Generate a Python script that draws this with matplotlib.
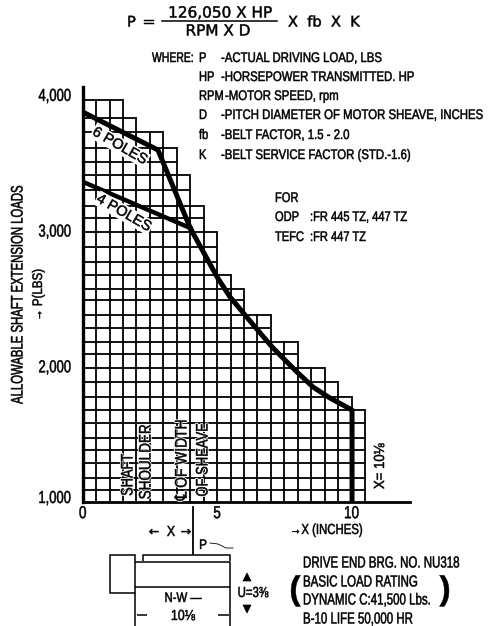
import matplotlib
matplotlib.use("Agg")
import matplotlib.pyplot as plt
from matplotlib.patches import Rectangle, Polygon
from matplotlib.patheffects import AbstractPathEffect
from matplotlib.text import Text
from matplotlib.transforms import Affine2D, Bbox, ScaledTranslation

SANS = ['Liberation Sans', 'DejaVu Sans']
plt.rcParams['font.family'] = SANS

W, H = 488, 626

# ---- data ----
grid_levels = [1088, 1177, 1287, 1383, 1472, 1582, 1678, 1774, 1884, 1987, 2091, 2179, 2282, 2378,
               2489, 2570, 2673, 2769, 2879, 2990, 3093, 3181, 3299, 3410, 3505, 3609, 3727, 3830, 3962]
column_tops = [3962, 3962, 3962, 3830, 3727, 3727, 3609, 3410, 3181, 2990, 2673,
               2570, 2378, 2378, 2179, 2179, 1987, 1987, 1884, 1774, 1678]
column_width = 0.5
poles6_x = [0, 2.8, 4.0]
poles6_y = [3874, 3594, 3019]
poles4_x = [0, 4.0]
poles4_y = [3360, 3019]
common_x = [4.0, 5.0, 5.48, 6.41, 7.08, 7.97, 8.57, 9.2, 10.02, 10.02]
common_y = [3019, 2658, 2511, 2290, 2135, 1958, 1847, 1766, 1678, 1000]
x_ticks = [0, 5, 10]
y_ticks = [1000, 2000, 3000, 4000]
y_tick_labels = ['1,000', '2,000', '3,000', '4,000']
where_syms = ['P', 'HP', 'RPM', 'D', 'fb', 'K']
where_desc = ['-ACTUAL DRIVING LOAD, LBS', '-HORSEPOWER TRANSMITTED. HP', '-MOTOR SPEED, rpm',
              '-PITCH DIAMETER OF MOTOR SHEAVE, INCHES', '-BELT FACTOR, 1.5 - 2.0',
              '-BELT SERVICE FACTOR (STD.-1.6)']


class Squeeze(AbstractPathEffect):
    """Draw a text's glyphs narrower along its baseline and slightly heavier, like the scan."""

    def __init__(self, sx, anchor='center', halo=0, weight=0.35):
        super().__init__()
        self.sx, self.anchor, self.halo, self.weight = sx, anchor, halo, weight

    def draw_path(self, renderer, gc, tpath, affine, rgbFace=None):
        ext = tpath.get_extents()
        a = {'left': 0.0, 'right': ext.x1, 'center': 0.5 * (ext.x0 + ext.x1)}[self.anchor]
        aff = Affine2D().translate(-a, 0).scale(self.sx, 1).translate(a, 0) + affine
        if self.halo:
            g = renderer.new_gc()
            g.copy_properties(gc)
            g.set_linewidth(self.halo)
            g.set_foreground('white')
            renderer.draw_path(g, tpath, aff, (1, 1, 1, 1))
            g.restore()
        g = renderer.new_gc()
        g.copy_properties(gc)
        g.set_linewidth(self.weight)
        g.set_foreground('black')
        renderer.draw_path(g, tpath, aff, rgbFace)
        g.restore()


class NarrowText(Text):
    """Text that reports the extent its squeezed glyphs really cover."""

    squeeze = 1.0

    def get_window_extent(self, renderer=None, dpi=None):
        bb = super().get_window_extent(renderer, dpi)
        s = self.squeeze
        if self.get_rotation() == 90:
            c = 0.5 * (bb.y0 + bb.y1)
            return Bbox([[bb.x0, c + (bb.y0 - c) * s], [bb.x1, c + (bb.y1 - c) * s]])
        a = {'left': bb.x0, 'right': bb.x1, 'center': 0.5 * (bb.x0 + bb.x1)}[self.get_ha()]
        return Bbox([[a + (bb.x0 - a) * s, bb.y0], [a + (bb.x1 - a) * s, bb.y1]])


fig = plt.figure(figsize=(W / 100, H / 100), dpi=100)


def txt(x, y, s, size=10, ha='left', sq=1.0, halo=0, **kw):
    t = NarrowText(x / W, 1 - y / H, s, fontsize=size, ha=ha, va='center', color='k',
                   transform=fig.transFigure, **kw)
    t.squeeze = sq
    anchor = 'center' if kw.get('rotation') else ha
    t.set_path_effects([Squeeze(sq, anchor, halo)])
    fig.add_artist(t)
    return t


# chart axes: 1000 lbs at pixel 502, 26.88 px per inch, 13.57 px per 100 lbs
L, B, R, T = 82.7, 502, 410, 87
ax = fig.add_axes([L / W, 1 - B / H, (R - L) / W, (B - T) / H])
ax.set_xlim(0, (R - L) / 26.88)
ax.set_ylim(1000, 1000 + (B - T) / 13.57 * 100)
ax.patch.set_alpha(0)
for s in ['top', 'right']:
    ax.spines[s].set_visible(False)
ax.spines['left'].set_linewidth(2.4)
ax.spines['bottom'].set_linewidth(2.0)
ax.set_xticks(x_ticks)
ax.set_xticklabels([str(v) for v in x_ticks], fontsize=12.5)
ax.set_yticks(y_ticks)
ax.set_yticklabels(y_tick_labels, fontsize=12.5)
ax.tick_params(axis='x', length=0, pad=3)
ax.tick_params(axis='y', length=0, pad=8.4)
for lab in ax.get_xticklabels():
    lab.set_path_effects([Squeeze(0.78, 'center')])
for lab in ax.get_yticklabels():
    lab.set_path_effects([Squeeze(0.75, 'right')])
ylabels = ax.get_yticklabels()
ylabels[0].set_transform(ylabels[0].get_transform() + ScaledTranslation(0, 5 / 100, fig.dpi_scale_trans))

# staircase grid
for lev in grid_levels:
    last = max(i + 1 for i, t in enumerate(column_tops) if t >= lev)
    ax.plot([0, last * column_width], [lev, lev], color='k', lw=1.3, solid_capstyle='butt', zorder=1)
for i, top in enumerate(column_tops):
    ax.plot([(i + 1) * column_width] * 2, [1000, top], color='k', lw=1.3, solid_capstyle='projecting', zorder=1)

# curves
ax.plot(poles6_x, poles6_y, color='k', lw=3.6, zorder=3, solid_joinstyle='round')
ax.plot(poles4_x, poles4_y, color='k', lw=3.2, zorder=3)
ax.plot(common_x, common_y, color='k', lw=3.6, zorder=3, solid_joinstyle='round')

box = dict(facecolor='white', edgecolor='none', pad=0.6)
txt(120, 146, '6 POLES', 10.5, ha='center', rotation=-30, rotation_mode='anchor', bbox=box)
txt(124, 213, '4 POLES', 10.5, ha='center', rotation=-30, rotation_mode='anchor', bbox=box)
for x, y, s, q in [(128, 475, 'SHAFT', 0.77), (146, 462, 'SHOULDER', 0.81),
                   (182, 460, '\u2104 OF WIDTH', 0.83), (203, 460, 'OF SHEAVE', 0.78)]:
    txt(x, y, s, 12, ha='center', sq=q, halo=1.6, rotation=90)
txt(380, 466, 'X= 10\u215b', 10.5, ha='center', sq=0.9, rotation=90)

# axis titles
txt(18, 295, 'ALLOWABLE SHAFT EXTENSION LOADS', 12, ha='center', sq=0.68, rotation=90)
txt(38, 295, '\u2192 P(LBS)', 10, ha='center', sq=0.83, rotation=90)
txt(290, 530, '\u2192X (INCHES)', 10.5, sq=0.78)

# formula
FORM = ['DejaVu Sans']
txt(127, 22, 'P', 10.5, family=FORM)
txt(149, 22, '=', 11, ha='center', family=FORM)
txt(220, 13, '126,050 X HP', 11, ha='center', family=FORM)
txt(218, 31, 'RPM X D', 11, ha='center', family=FORM)
txt(288, 22, 'X  fb  X  K', 10.5, family=FORM)
over = fig.add_axes([0, 0, 1, 1])
over.set_xlim(0, W)
over.set_ylim(H, 0)
over.axis('off')
over.patch.set_alpha(0)
over.plot([162, 277], [21, 21], color='k', lw=1.1)

# where block
txt(152, 58, 'WHERE:', 10, sq=0.75)
row_y = [58, 77, 96, 115, 135, 155]
desc_x = [221, 221, 225, 221, 221, 221]
for s, d, y, dx in zip(where_syms, where_desc, row_y, desc_x):
    txt(199, y, s, 10, sq=0.8)
    txt(dx, y, d, 10, sq=0.82)

txt(275, 198, 'FOR', 10, sq=0.8)
txt(275, 217, 'ODP', 10, sq=0.8)
txt(310, 217, ':FR 445 TZ, 447 TZ', 10, sq=0.8)
txt(275, 237, 'TEFC', 10, sq=0.8)
txt(310, 237, ':FR 447 TZ', 10, sq=0.8)

# shaft sketch
lk = dict(color='k', lw=1.1, solid_capstyle='butt')
over.add_patch(Rectangle((110, 555), 25, 38, fill=False, ec='k', lw=1.1))
over.plot([135, 230, 230, 135], [562, 562, 587, 587], **lk)
over.plot([143, 143, 230, 230], [561, 555, 555, 561], **lk)
over.plot([192.7, 192.7], [507, 554], color='k', lw=1.3)
over.plot([135, 135], [593, 626], **lk)
over.plot([230, 230], [587, 626], **lk)
over.plot([137, 147], [615, 615], **lk)
over.plot([218, 229], [615, 615], **lk)
over.plot([210, 218, 226, 233], [543, 544, 548, 548], color='k', lw=0.6)
for tri in ([(243, 581), (251, 581), (247, 573)], [(243, 605), (251, 605), (247, 613)]):
    over.add_patch(Polygon(tri, closed=True, fc='k', ec='k', lw=0.5))
txt(203, 545, 'P', 10, ha='center', sq=0.85)
txt(171, 532, 'X', 10.5, ha='center', sq=0.85)
txt(154, 532, '\u2190', 9, ha='center', family=FORM)
txt(186, 532, '\u2192', 9, ha='center', family=FORM)
txt(183, 598, 'N-W \u2014', 10, ha='center', sq=0.82)
txt(183, 616, '10\u215b', 10.5, ha='center', sq=0.85)
txt(253, 593, 'U=3\u215c', 10.5, ha='center', sq=0.78)

# bearing note
for y, s in [(563, 'DRIVE END BRG. NO. NU318'), (582, 'BASIC LOAD RATING'),
             (600, 'DYNAMIC C:41,500 Lbs.'), (619, 'B-10 LIFE 50,000 HR')]:
    txt(303, y, s, 11.5, sq=0.72)
txt(295, 591, '(', 24, ha='center', fontweight='bold')
txt(445, 591, ')', 24, ha='center', fontweight='bold')

fig.savefig('out.png', dpi=100)
